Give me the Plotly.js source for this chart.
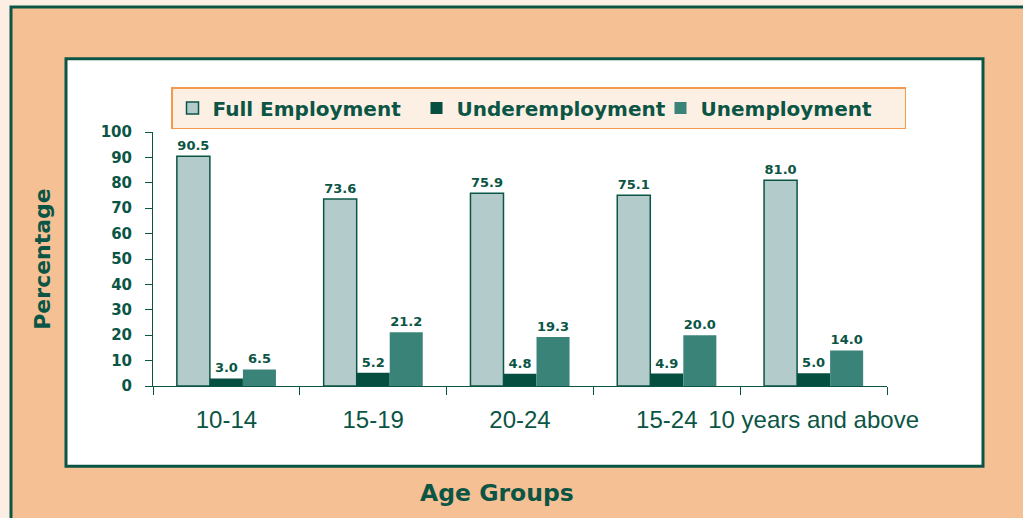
<!DOCTYPE html>
<html>
<head>
<meta charset="utf-8">
<script src="https://cdn.plot.ly/plotly-3.0.1.min.js"></script>
<style>html,body{margin:0;padding:0;background:#fdeee3;}#chart{width:1023px;height:518px;}</style>
</head>
<body>
<div id="chart"></div>
<script>
var categories = ["10-14", "15-19", "20-24", "15-24", "10 years and above"];
var fullEmployment = [90.5, 73.6, 75.9, 75.1, 81.0];
var underemployment = [3.0, 5.2, 4.8, 4.9, 5.0];
var unemployment = [6.5, 21.2, 19.3, 20.0, 14.0];
var yTicks = [0, 10, 20, 30, 40, 50, 60, 70, 80, 90, 100];

var GREEN = "#0b5545";
var FONT = "Liberation Sans, Arial, sans-serif";
var BFONT = "DejaVu Sans, Verdana, sans-serif";

function fmt(arr){ return arr.map(function(v){ return v.toFixed(1); }); }

var labelFont = {family: BFONT, size: 13, color: GREEN, weight: "bold"};

var traces = [
  {type: "bar", name: "Full Employment", x: categories, y: fullEmployment,
   text: fmt(fullEmployment), textposition: "outside", textfont: labelFont, cliponaxis: false,
   constraintext: "none",
   marker: {color: "#b3cccb", line: {color: GREEN, width: 1.5}}, hoverinfo: "skip"},
  {type: "bar", name: "Underemployment", x: categories, y: underemployment,
   text: fmt(underemployment), textposition: "outside", textfont: labelFont, cliponaxis: false,
   constraintext: "none",
   marker: {color: "#044f40", line: {width: 0}}, hoverinfo: "skip"},
  {type: "bar", name: "Unemployment", x: categories, y: unemployment,
   text: fmt(unemployment), textposition: "outside", textfont: labelFont, cliponaxis: false,
   constraintext: "none",
   marker: {color: "#3a8379", line: {width: 0}}, hoverinfo: "skip"}
];

// pixel -> paper helpers (plot area: x 153..887, y 136..386)
function px(x){ return (x - 153) / 734; }
function py(y){ return (386 - y) / 250; }

var layout = {
  width: 1023, height: 518,
  margin: {l: 153, r: 136, t: 132, b: 132, autoexpand: false},
  paper_bgcolor: "#fdeee3",
  plot_bgcolor: "rgba(0,0,0,0)",
  barmode: "group",
  bargap: 0.325,
  bargroupgap: 0,
  font: {family: FONT, color: GREEN},
  showlegend: true,
  legend: {
    orientation: "h",
    xref: "container", yref: "container",
    x: 171 / 1023, xanchor: "left",
    y: 1 - 108 / 518, yanchor: "middle",
    bgcolor: "#fcefe4", bordercolor: "#f39a4e", borderwidth: 1.5,
    font: {family: BFONT, size: 20, color: GREEN, weight: "bold"},
    entrywidth: 199, entrywidthmode: "pixels",
    traceorder: "normal"
  },
  xaxis: {
    type: "category",
    tickson: "boundaries",
    tickangle: 0,
    ticks: "outside", ticklen: 8, tickcolor: GREEN, tickwidth: 1,
    ticklabelstandoff: 12,
    showline: true, linecolor: GREEN, linewidth: 1,
    showgrid: false, zeroline: false,
    tickfont: {family: FONT, size: 24, color: GREEN},
    fixedrange: true
  },
  yaxis: {
    range: [0, 100],
    tickvals: yTicks,
    ticks: "outside", ticklen: 7, tickcolor: GREEN, tickwidth: 1,
    ticklabelstandoff: 10,
    showline: true, linecolor: GREEN, linewidth: 1,
    showgrid: false, zeroline: false,
    tickfont: {family: BFONT, size: 15, color: GREEN, weight: "bold"},
    title: {text: "Percentage", font: {family: BFONT, size: 22, color: GREEN, weight: "bold"}, standoff: 43},
    fixedrange: true
  },
  annotations: [
    {text: "Age Groups", xref: "paper", yref: "paper", x: px(497), y: py(491),
     xanchor: "center", yanchor: "middle", showarrow: false,
     font: {family: BFONT, size: 23.5, color: GREEN, weight: "bold"}}
  ],
  shapes: [
    {type: "rect", layer: "below", xref: "paper", yref: "paper",
     x0: px(11), x1: px(1040), y0: py(13), y1: py(540),
     fillcolor: "#f6c095", line: {color: GREEN, width: 3}},
    {type: "rect", layer: "below", xref: "paper", yref: "paper",
     x0: px(66), x1: px(983), y0: py(64), y1: py(465),
     fillcolor: "#ffffff", line: {color: GREEN, width: 3}}
  ]
};

Plotly.newPlot("chart", traces, layout, {displayModeBar: false, staticPlot: true});
</script>
</body>
</html>
